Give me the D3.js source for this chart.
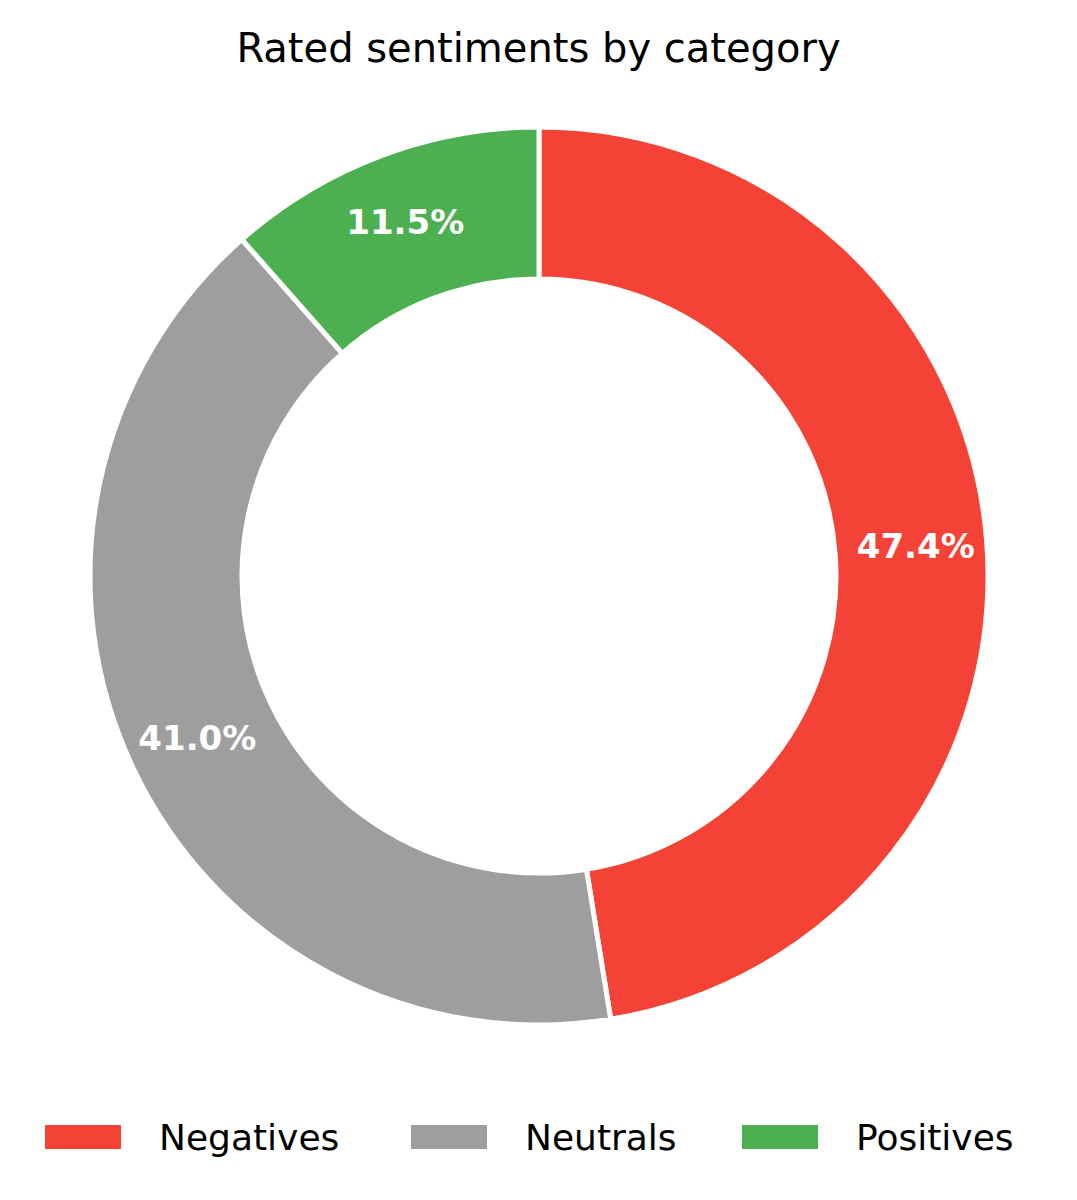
<!DOCTYPE html>
<html>
<head>
<meta charset="utf-8">
<script src="https://cdn.jsdelivr.net/npm/d3@7"></script>
<style>
  body { margin: 0; background: #fff; }
  text { font-family: "DejaVu Sans", sans-serif; }
</style>
</head>
<body>
<script>
// data
const categories = ["Negatives", "Neutrals", "Positives"];
const shares = [47.4, 41.0, 11.5];
const colors = ["#F44336", "#9E9E9E", "#4CAF50"];

const width = 1077, height = 1200;
const cx = 539, cy = 576, outerR = 449, innerR = 297, labelR = 378;

const svg = d3.select("body").append("svg")
    .attr("width", width).attr("height", height);

svg.append("text")
    .attr("x", width / 2).attr("y", 62)
    .attr("text-anchor", "middle")
    .attr("font-size", 40)
    .text("Rated sentiments by category");

const pie = d3.pie().sort(null).value(d => d)
    .startAngle(0).endAngle(2 * Math.PI);
const arcs = pie(shares);

const arc = d3.arc().innerRadius(innerR).outerRadius(outerR);
const g = svg.append("g").attr("transform", `translate(${cx},${cy})`);

g.selectAll("path").data(arcs).join("path")
    .attr("d", arc)
    .attr("fill", (d, i) => colors[i])
    .attr("stroke", "#fff")
    .attr("stroke-width", 5);

g.selectAll("text.pct").data(arcs).join("text")
    .attr("class", "pct")
    .attr("x", d => labelR * Math.sin((d.startAngle + d.endAngle) / 2))
    .attr("y", d => -labelR * Math.cos((d.startAngle + d.endAngle) / 2))
    .attr("dy", "0.35em")
    .attr("text-anchor", "middle")
    .attr("font-size", 34)
    .attr("font-weight", "bold")
    .attr("fill", "#fff")
    .text(d => d.data.toFixed(1) + "%");

// legend
const legendX = [45, 411, 742];
const legend = svg.append("g").selectAll("g").data(categories).join("g")
    .attr("transform", (d, i) => `translate(${legendX[i]},1137)`);
legend.append("rect")
    .attr("x", 0).attr("y", -12).attr("width", 76).attr("height", 24)
    .attr("fill", (d, i) => colors[i]);
legend.append("text")
    .attr("x", 114).attr("dy", "0.35em")
    .attr("font-size", 36)
    .text(d => d);
</script>
</body>
</html>
